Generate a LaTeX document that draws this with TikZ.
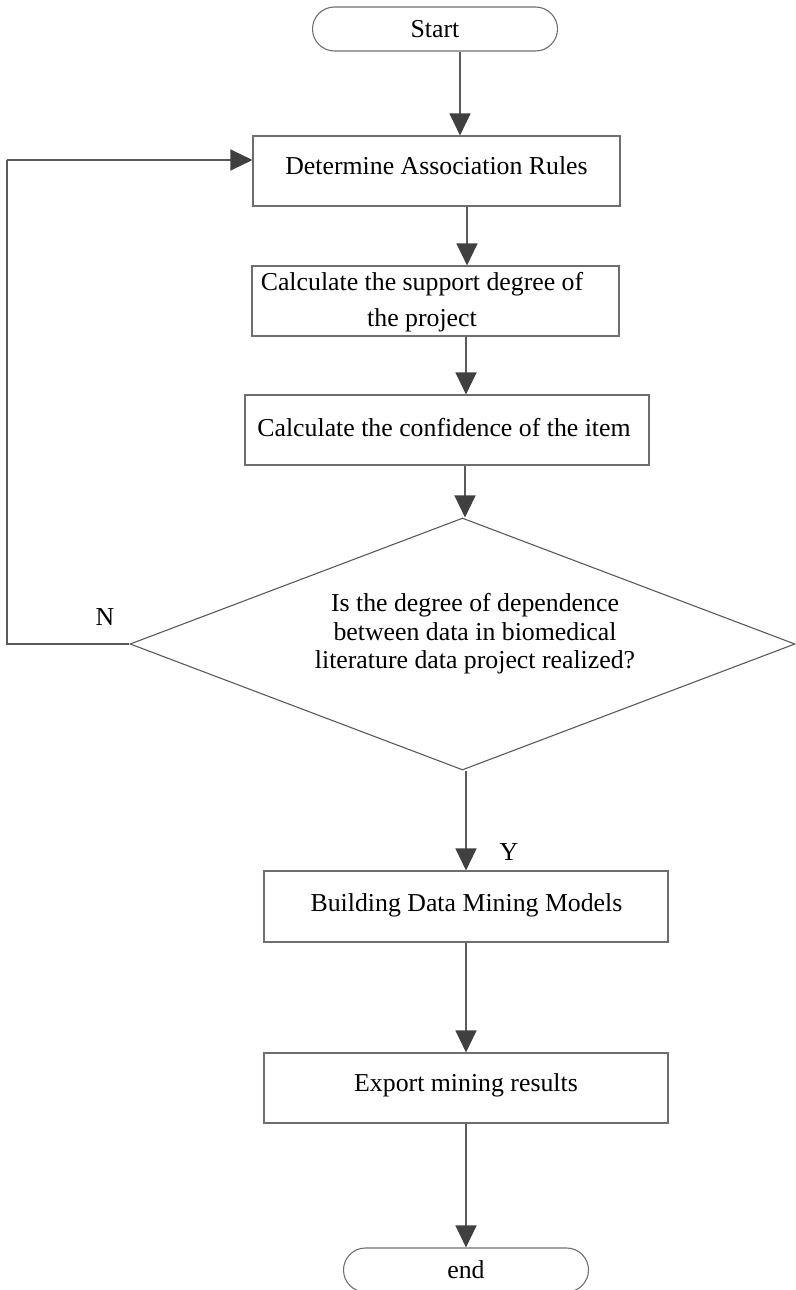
\documentclass[tikz,border=0pt]{standalone}
\usepackage{fontspec}
\setmainfont{Liberation Serif}
\usetikzlibrary{arrows.meta,shapes.geometric}
\definecolor{edgegray}{HTML}{6E6E6E}
\definecolor{linegray}{HTML}{5A5A5A}
\definecolor{tipgray}{HTML}{404040}
\begin{document}
\begin{tikzpicture}[x=1pt,y=-1pt,
  every node/.style={font=\fontsize{25.8}{36}\selectfont},
  procbox/.style={draw=edgegray,line width=1.1pt,rectangle,inner sep=0pt},
  terminal/.style={draw=edgegray,line width=1.1pt,rectangle,rounded corners=22pt,
    minimum width=245pt,minimum height=44pt,inner sep=0pt},
  decision/.style={draw=linegray,line width=1.1pt,diamond,inner sep=0pt},
  flow/.style={draw=linegray,line width=1.2pt,
    -{Triangle[length=22pt,width=21pt,color=tipgray]}},
  plain/.style={draw=linegray,line width=1.2pt}]
\useasboundingbox (0,0) rectangle (795,1290);

% terminals
\node[terminal] (start) at (435,29) {Start};
\node[terminal] (stop) at (466,1270) {end};

% process boxes
\node[procbox,minimum width=367pt,minimum height=70pt] (rules) at (436.5,171) {};
\node (rulestext) at (436.5,166) {Determine Association Rules};
\node[procbox,minimum width=367pt,minimum height=70pt] (support) at (435.5,301) {};
\node[align=center] (supporttext) at (422,302) {Calculate the support degree of\\the project};
\node[procbox,minimum width=404pt,minimum height=70pt] (conf) at (447,430) {};
\node (conftext) at (444,428) {Calculate the confidence of the item};
\node[procbox,minimum width=404pt,minimum height=71pt] (model) at (466,906.5) {};
\node (modeltext) at (466.5,905) {Building Data Mining Models};
\node[procbox,minimum width=404pt,minimum height=70pt] (export) at (466,1088) {};
\node (exporttext) at (466,1085) {Export mining results};

% decision
\node[decision,minimum width=665pt,minimum height=252pt] (check) at (462.5,644) {};
\node[align=center,font=\fontsize{25.8}{28.5}\selectfont] (checktext) at (475,634)
  {Is the degree of dependence\\between data in biomedical\\literature data project realized?};

% branch labels
\node (nlabel) at (105,617) {N};
\node (ylabel) at (509,852) {Y};

% connectors
\draw[flow] ([xshift=25pt]start.south) -- ([xshift=25pt]start.south |- rules.north);
\draw[flow] ([xshift=30.5pt]rules.south) -- ([xshift=30.5pt]rules.south |- support.north);
\draw[flow] ([xshift=30.5pt]support.south) -- ([xshift=30.5pt]support.south |- conf.north);
\draw[flow] ([xshift=18pt]conf.south) -- ([xshift=2.5pt]check.north);
\draw[flow] (model.north |- check.south) -- (model.north);
\draw[flow] (model.south) -- (export.north);
\draw[flow] (export.south) -- (stop.north);
\coordinate (loopbottom) at (7,644);
\coordinate (looptop) at (7,160);
\draw[plain] (check.west) -- (loopbottom) -- (looptop);
\draw[flow] (looptop) -- (looptop -| rules.west);
\end{tikzpicture}
\end{document}
